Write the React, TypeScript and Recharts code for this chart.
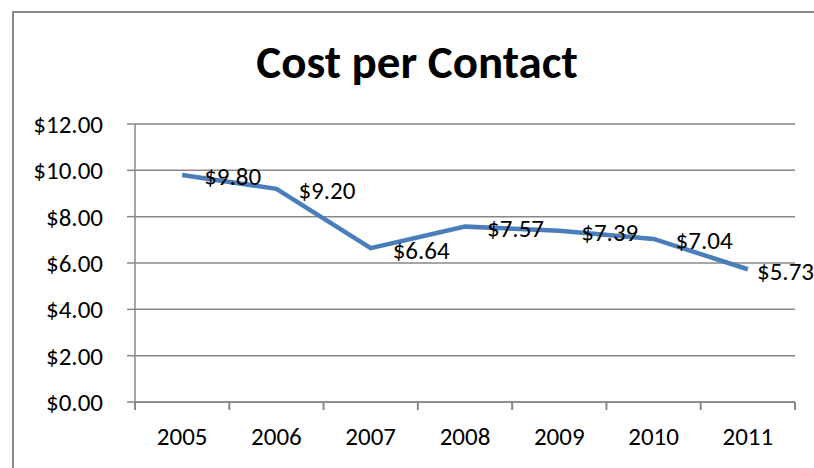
import { CartesianGrid, Line, LineChart, XAxis, YAxis } from "recharts"

const years = ["2005", "2006", "2007", "2008", "2009", "2010", "2011"]
const costs = [9.8, 9.2, 6.64, 7.57, 7.39, 7.04, 5.73]
const yTicks = [0, 2, 4, 6, 8, 10, 12]

const data = years.map((year, i) => ({ year, cost: costs[i] }))

const W = 814
const H = 468
const PLOT_LEFT = 135
const PLOT_RIGHT = 795
const FONT = "Carlito, Calibri, Lato, sans-serif"
const FONT_SIZE = 25
const GRAY = "#878787"
const BLUE = "#4A7EBB"

const money = (v: number) => `$${v.toFixed(2)}`

const HALF_BAND = (PLOT_RIGHT - PLOT_LEFT) / years.length / 2

function YearTick(props: any) {
  const { x, y, payload, index } = props
  const last = index === years.length - 1
  return (
    <g>
      <line x1={x - HALF_BAND} y1={y} x2={x - HALF_BAND} y2={y + 8} stroke={GRAY} strokeWidth={2} />
      {last && <line x1={x + HALF_BAND} y1={y} x2={x + HALF_BAND} y2={y + 8} stroke={GRAY} strokeWidth={2} />}
      <text
        x={x}
        y={y + 34}
        textAnchor="middle"
        dominantBaseline="central"
        fill="#000"
        fontSize={FONT_SIZE}
        fontFamily={FONT}
      >
        {payload.value}
      </text>
    </g>
  )
}

// labels sit right of the point, pushed back inside the chart if they would overflow
function CostLabel(props: any) {
  const { x, y, value } = props
  const text = money(value)
  const width = text.length * FONT_SIZE * 0.48
  const overflow = x + 22 + width > W
  return (
    <text
      x={overflow ? W : x + 22}
      y={y + 2}
      textAnchor={overflow ? "end" : "start"}
      dominantBaseline="central"
      fill="#000"
      fontSize={FONT_SIZE}
      fontFamily={FONT}
    >
      {text}
    </text>
  )
}

export default function App() {
  return (
    <div
      style={{
        position: "absolute",
        left: 0,
        top: 0,
        width: W,
        height: H,
        overflow: "hidden",
        background: "#fff",
        fontFamily: FONT,
      }}
    >
      <div
        style={{
          position: "absolute",
          left: 12,
          top: 11,
          width: 900,
          height: 600,
          borderLeft: "2px solid #8c8c8c",
          borderTop: "2px solid #8c8c8c",
        }}
      />
      <div
        style={{
          position: "absolute",
          left: 0,
          top: 36,
          width: 834,
          textAlign: "center",
          fontSize: 47,
          lineHeight: "52px",
          fontWeight: "bold",
          color: "#000",
        }}
      >
        Cost per Contact
      </div>
      <div style={{ position: "absolute", left: 0, top: 0 }}>
        <LineChart width={W} height={H} data={data} margin={{ top: 124, right: W - PLOT_RIGHT, bottom: 0, left: 0 }}>
          <CartesianGrid vertical={false} stroke={GRAY} strokeWidth={1.5} />
          <XAxis
            dataKey="year"
            height={66}
            interval={0}
            padding={{ left: HALF_BAND, right: HALF_BAND }}
            tickLine={false}
            tickSize={0}
            tickMargin={0}
            axisLine={{ stroke: GRAY, strokeWidth: 1.5 }}
            tick={<YearTick />}
          />
          <YAxis
            width={PLOT_LEFT}
            domain={[0, 12]}
            ticks={yTicks}
            tickFormatter={money}
            tickSize={8}
            tickMargin={24}
            tickLine={{ stroke: GRAY, strokeWidth: 1.5 }}
            axisLine={{ stroke: GRAY, strokeWidth: 1.5 }}
            tick={{ fill: "#000", fontSize: FONT_SIZE, fontFamily: FONT }}
          />
          <Line
            type="linear"
            dataKey="cost"
            stroke={BLUE}
            strokeWidth={4.5}
            dot={false}
            activeDot={false}
            isAnimationActive={false}
            label={<CostLabel />}
          />
        </LineChart>
      </div>
    </div>
  )
}
